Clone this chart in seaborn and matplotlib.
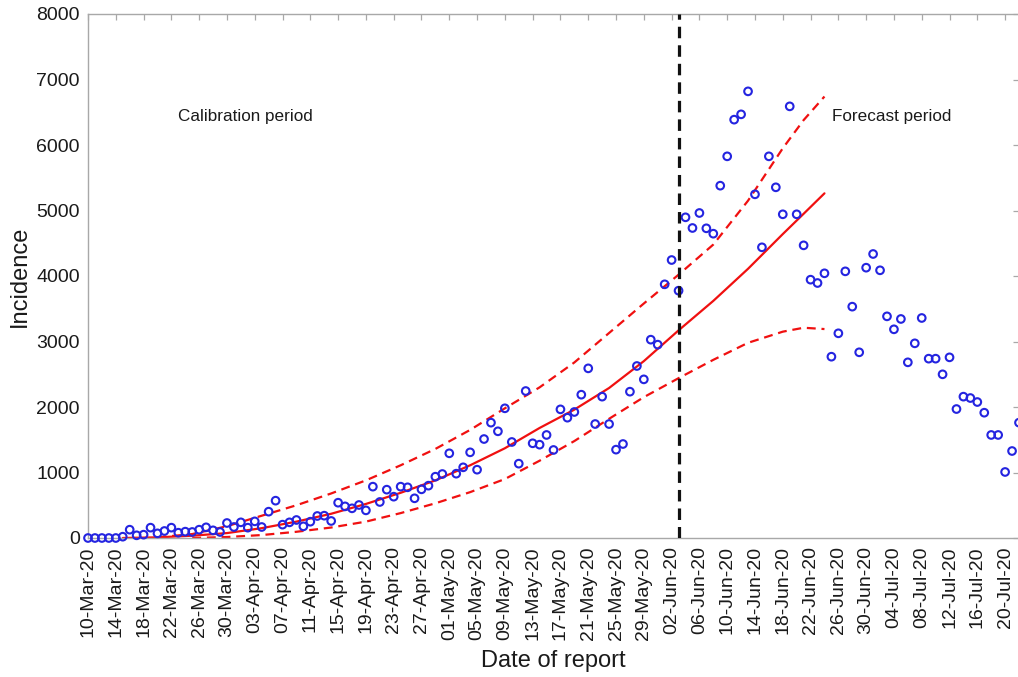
import matplotlib
matplotlib.use("Agg")
import matplotlib.pyplot as plt
import matplotlib.dates as mdates
import seaborn as sns
import pandas as pd

# ---------------- data ----------------
start_date = "2020-03-10"
incidence = [
    0, 0, 0, 0, 0, 20, 127, 41, 51, 158,
    71, 107, 158, 81, 97, 92, 127, 163, 117, 92,
    229, 168, 239, 158, 254, 168, 402, 570, 204, 239,
    275, 178, 249, 336, 341, 260, 539, 483, 453, 504,
    422, 784, 550, 738, 631, 784, 774, 606, 743, 799,
    936, 977, 1293, 982, 1079, 1308, 1043, 1511, 1761, 1629,
    1980, 1466, 1135, 2244, 1446, 1425, 1573, 1344, 1964, 1837,
    1924, 2188, 2590, 1740, 2158, 1740, 1349, 1435, 2234, 2626,
    2422, 3028, 2952, 3873, 4244, 3776, 4896, 4733, 4962, 4728,
    4646, 5379, 5827, 6387, 6468, 6819, 5247, 4438, 5827, 5354,
    4942, 6590, 4942, 4468, 3944, 3893, 4041, 2768, 3125, 4071,
    3532, 2835, 4127, 4336, 4087, 3384, 3186, 3344, 2682, 2972,
    3359, 2738, 2738, 2499, 2758, 1969, 2158, 2137, 2076, 1913,
    1573, 1573, 1008, 1328, 1761,
]

fit_day_offsets = [5, 10, 15, 20, 25, 30, 35, 40, 45, 50, 55, 60, 65, 70, 75,
                   80, 85, 90, 95, 100, 103, 106]
fit_mean = [0, 10, 35, 75, 150, 250, 370, 520, 690, 880, 1110, 1370, 1680, 1960,
            2290, 2700, 3170, 3620, 4110, 4640, 4950, 5262]
upper_day_offsets = [10, 15, 20, 25, 30, 35, 40, 45, 50, 55, 60, 65, 70, 75, 80,
                     85, 90, 95, 100, 103, 106]
fit_upper = [10, 60, 180, 340, 500, 680, 880, 1110, 1360, 1650, 1980, 2300,
             2680, 3130, 3580, 4020, 4480, 5150, 5950, 6380, 6740]
lower_day_offsets = [15, 20, 25, 30, 35, 40, 45, 50, 55, 60, 65, 70, 75, 80,
                     85, 90, 95, 100, 103, 106]
fit_lower = [0, 15, 45, 95, 160, 250, 380, 530, 700, 900, 1180, 1480, 1820,
             2150, 2440, 2720, 2980, 3150, 3210, 3190]

forecast_start = "2020-06-03"
x_end_date = "2020-07-22"
y_ticks = [0, 1000, 2000, 3000, 4000, 5000, 6000, 7000, 8000]
tick_step_days = 4
label_calibration = "Calibration period"
label_forecast = "Forecast period"

# ---------------- build frames ----------------
t0 = pd.Timestamp(start_date)
obs = pd.DataFrame({"date": pd.date_range(t0, periods=len(incidence), freq="D"),
                    "incidence": incidence})
mean_df = pd.DataFrame({"date": t0 + pd.to_timedelta(fit_day_offsets, unit="D"),
                        "value": fit_mean})
up_df = pd.DataFrame({"date": t0 + pd.to_timedelta(upper_day_offsets, unit="D"),
                      "value": fit_upper})
lo_df = pd.DataFrame({"date": t0 + pd.to_timedelta(lower_day_offsets, unit="D"),
                      "value": fit_lower})

# ---------------- plot ----------------
sns.set_style("white")
plt.rcParams["font.family"] = ["Liberation Sans", "DejaVu Sans"]

fig = plt.figure(figsize=(10.18, 6.77), dpi=100)
ax = fig.add_axes([88 / 1018, 139 / 677, 931 / 1018, 524 / 677])

red = "#f01010"
sns.lineplot(data=mean_df, x="date", y="value", ax=ax, color=red, lw=1.6)
sns.lineplot(data=up_df, x="date", y="value", ax=ax, color=red, lw=1.6,
             dashes=False)
sns.lineplot(data=lo_df, x="date", y="value", ax=ax, color=red, lw=1.6,
             dashes=False)
for ln in ax.lines[1:3]:
    ln.set_dashes((4, 2.6))

sns.scatterplot(data=obs, x="date", y="incidence", ax=ax, marker="o", s=30,
                facecolor="none", edgecolor="#2424e0", linewidth=1.5,
                zorder=3, clip_on=False)

ax.axvline(pd.Timestamp(forecast_start), color="#111111", lw=2.3,
           dashes=(3.6, 2.2), zorder=4)

ax.set_xlim(t0, pd.Timestamp(x_end_date))
ax.set_ylim(y_ticks[0], y_ticks[-1])
ax.set_yticks(y_ticks)
ax.xaxis.set_major_locator(mdates.DayLocator(interval=tick_step_days))
ax.set_xticks(pd.date_range(t0, pd.Timestamp(x_end_date), freq=f"{tick_step_days}D"))
ax.xaxis.set_major_formatter(mdates.DateFormatter("%d-%b-%y"))

spine_c = "#a8a8a8"
for sp in ax.spines.values():
    sp.set_visible(True)
    sp.set_color(spine_c)
    sp.set_linewidth(1.0)
ax.tick_params(axis="both", direction="in", length=4.5, width=0.9,
               color=spine_c, labelcolor="#1a1a1a", labelsize=14,
               top=True, right=True)
ax.tick_params(axis="x", pad=6)
ax.tick_params(axis="y", pad=6)
plt.setp(ax.get_xticklabels(), rotation=90)

ax.set_xlabel("Date of report", fontsize=17, color="#1a1a1a", labelpad=7)
ax.set_ylabel("Incidence", fontsize=17, color="#1a1a1a", labelpad=4)

ax.text(t0 + pd.Timedelta(days=22.6), 6430, label_calibration, fontsize=12.3,
        ha="center", va="center", color="#1a1a1a")
ax.text(t0 + pd.Timedelta(days=115.7), 6430, label_forecast, fontsize=12.3,
        ha="center", va="center", color="#1a1a1a")

fig.savefig("out.png", dpi=100)
